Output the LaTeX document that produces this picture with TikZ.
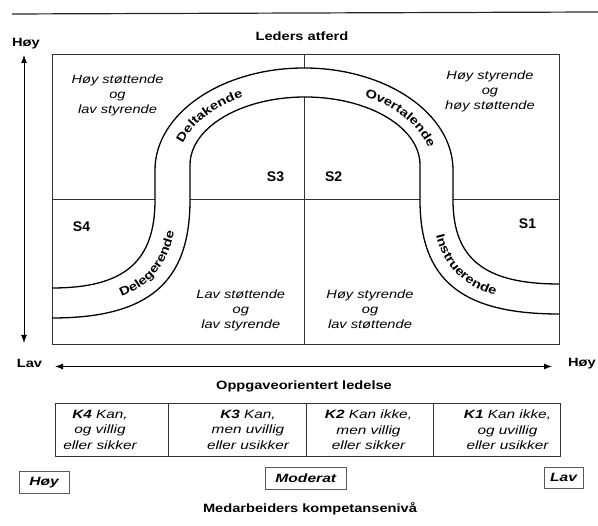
\documentclass[tikz,border=0pt]{standalone}
\usepackage{fontspec}
\setmainfont{Liberation Sans}[FakeStretch=1.22]
\newfontfamily\kfont{Liberation Sans}[FakeStretch=1.28]
\newfontfamily\sfont{Liberation Sans}
\newfontfamily\lvlfont{Liberation Sans}[FakeStretch=1.3]
\usetikzlibrary{arrows.meta,decorations.text}
\begin{document}
\begin{tikzpicture}[x=1pt,y=1pt,
  headtxt/.style={font=\fontsize{12}{15}\selectfont\bfseries, inner sep=0pt, anchor=base},
  quadtxt/.style={font=\fontsize{12}{15}\selectfont\itshape, align=center, inner sep=0pt},
  slbl/.style={font=\sfont\fontsize{14}{16}\selectfont\bfseries, inner sep=0pt},
  boxline/.style={draw=black!80, line width=0.8pt},
  bandline/.style={draw=black, line width=1.3pt},
  ktext/.style={font=\kfont\fontsize{12}{15.5}\selectfont\itshape, align=center, inner sep=0pt},
  lvlbox/.style={draw=black!65, line width=0.7pt, font=\lvlfont\fontsize{12}{14}\selectfont\bfseries\itshape, inner sep=0pt},
  axisarrow/.style={line width=1pt, {Latex[length=8pt,width=6pt]}-{Latex[length=8pt,width=6pt]}},
  bandtext/.style={decorate, decoration={text along path, text align=center, raise=0pt,
     text={|\fontsize{12}{14}\selectfont\bfseries|#1}}}
]
\useasboundingbox (0,0) rectangle (598,526);

% top rule
\draw[line width=1.2pt, black!85] (12,512) -- (598,514);

% headings and axis labels
\node[headtxt] (lead) at (302,485.5) {Leders atferd};
\node[headtxt] (hoyv) at (26,479.5) {Høy};
\node[headtxt] (lavv) at (29.5,158) {Lav};
\node[headtxt] (hoyh) at (582,159) {Høy};
\node[headtxt] (oppg) at (304,136) {Oppgaveorientert ledelse};
\node[headtxt] (med) at (310,13.3) {Medarbeiders kompetansenivå};

% axes
\coordinate (vtop) at (24,471);
\coordinate (vbot) at (24,183);
\draw[axisarrow] (vbot) -- (vtop);
\coordinate (hleft) at (55,159.5);
\coordinate (hright) at (552,159.5);
\draw[axisarrow] (hleft) -- (hright);

% quadrant cross
\draw[boxline] (304.5,182) -- (304.5,472);
\draw[boxline] (52,326.5) -- (559,326.5);

% band fill
\fill[white] (52,238) .. controls (124.4,238) and (155,264.4) .. (155,326) -- (155,356)
  arc[start angle=180,end angle=0,x radius=149,y radius=102] -- (453,326)
  .. controls (453,267.2) and (484.5,242) .. (559,242) -- (559,212)
  .. controls (461.4,212) and (420,246.2) .. (420,326) -- (420,361)
  arc[start angle=0,end angle=180,x radius=115,y radius=68] -- (190,326)
  .. controls (190,243.4) and (148.6,208) .. (52,208) -- cycle;

% main frame
\draw[boxline] (52,182) rectangle (559,472);

% band curves
\draw[bandline] (52,238) .. controls (124.4,238) and (155,264.4) .. (155,326) -- (155,356)
  arc[start angle=180,end angle=0,x radius=149,y radius=102] -- (453,326)
  .. controls (453,267.2) and (484.5,242) .. (559,242);
\draw[bandline] (52,208) .. controls (148.6,208) and (190,243.4) .. (190,326) -- (190,361)
  arc[start angle=180,end angle=0,x radius=115,y radius=68] -- (420,326)
  .. controls (420,246.2) and (461.4,212) .. (559,212);

% band labels (baselines offset so the letters sit centred in the band)
\path[bandtext=Delegerende] (52,218.7) .. controls (139.4,218.7) and (176.8,250.9) .. (176.8,326) -- (176.8,365);
\path[bandtext=Deltakende] (178.0,369.7) arc[start angle=172,end angle=112,x radius=127.7,y radius=80.7];
\path[bandtext=Overtalende] (348.2,434.3) arc[start angle=70,end angle=2,x radius=127.7,y radius=80.7];
\path[bandtext=Instruerende] (432.2,355) -- (432.2,326) .. controls (432.2,253.7) and (470.2,222.7) .. (559,222.7);

% S labels
\node[slbl] (s3) at (275.5,349.3) {S3};
\node[slbl] (s2) at (333.7,349.5) {S2};
\node[slbl] (s4) at (81.5,299.3) {S4};
\node[slbl] (s1) at (527.5,302.7) {S1};

% quadrant texts
\node[quadtxt] (q1) at (117.5,430.5) {Høy støttende\\og\\lav styrende};
\node[quadtxt] (q2) at (490,434.5) {Høy styrende\\og\\høy støttende};
\node[quadtxt] (q3) at (240.8,216) {Lav støttende\\og\\lav styrende};
\node[quadtxt] (q4) at (370,217) {Høy styrende\\og\\lav støttende};

% competence boxes
\draw[boxline, line width=0.7pt] (55,70) rectangle (560,122.7);
\draw[boxline, line width=0.7pt] (168.3,70) -- (168.3,122.7);
\draw[boxline, line width=0.7pt] (306.7,70) -- (306.7,122.7);
\draw[boxline, line width=0.7pt] (433.3,70) -- (433.3,122.7);
\node[ktext] (k4) at (100,96.2) {\textbf{K4} Kan,\\og villig\\eller sikker};
\node[ktext] (k3) at (248,96.2) {\textbf{K3} Kan,\\men uvillig\\eller usikker};
\node[ktext] (k2) at (368.5,96.2) {\textbf{K2} Kan ikke,\\men villig\\eller sikker};
\node[ktext] (k1) at (507.5,96.2) {\textbf{K1} Kan ikke,\\og uvillig\\eller usikker};

% level boxes
\node[lvlbox, minimum width=50pt, minimum height=21.6pt] (lhoy) at (44,43.7) {Høy};
\node[lvlbox, minimum width=81.7pt, minimum height=22pt] (lmod) at (305.8,48) {Moderat};
\node[lvlbox, minimum width=39pt, minimum height=21pt] (llav) at (563.5,48.5) {Lav};
\end{tikzpicture}
\end{document}
